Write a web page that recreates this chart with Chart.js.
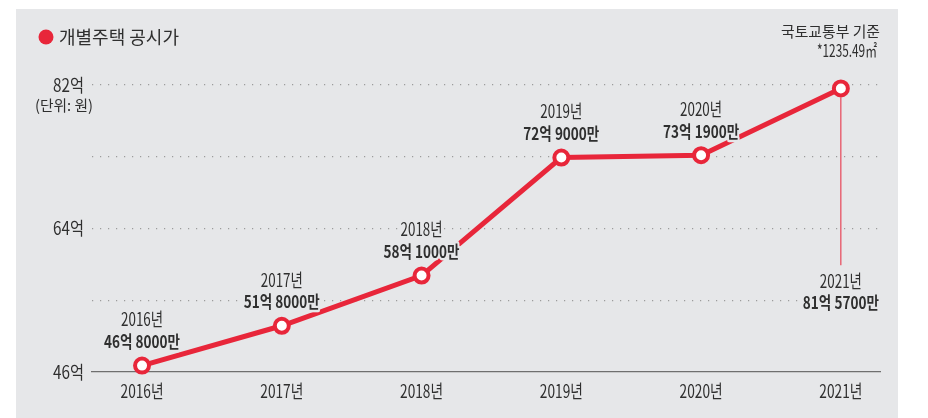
<!DOCTYPE html>
<html>
<head>
<meta charset="utf-8">
<script src="https://cdn.jsdelivr.net/npm/chart.js@4.4.1/dist/chart.umd.min.js"></script>
<style>
  html, body { margin: 0; padding: 0; background: #ffffff; }
  canvas { display: block; }
</style>
</head>
<body>
<canvas id="price-chart" width="928" height="418"></canvas>
<script>
// data (unit: 억 원)
var years = ['2016년', '2017년', '2018년', '2019년', '2020년', '2021년'];
var prices = [46.8, 51.8, 58.1, 72.9, 73.19, 81.57];
var priceLabels = ['46억 8000만', '51억 8000만', '58억 1000만', '72억 9000만', '73억 1900만', '81억 5700만'];
var yTicks = [46, 55, 64, 73, 82];
var yTickLabels = { 46: '46억', 64: '64억', 82: '82억' };

var RED = '#e8263a';
var PANEL = '#e6e7e9';
var TEXT = '#2f2f2f';
var FONT = '"Noto Sans CJK KR", "Noto Sans", sans-serif';

// the print version uses a condensed face, so squeeze text to a measured width
function squeeze(ctx, font, sample, targetWidth) {
    ctx.save();
    ctx.font = font;
    var w = ctx.measureText(sample).width;
    ctx.restore();
    return w > 0 ? targetWidth / w : 1;
}

function drawText(ctx, text, x, y, font, align, sx, halo) {
    ctx.save();
    ctx.font = font;
    ctx.textAlign = align;
    ctx.textBaseline = 'middle';
    ctx.translate(x, y);
    ctx.scale(sx, 1);
    if (halo) {
        ctx.lineJoin = 'round';
        ctx.lineWidth = 5;
        ctx.strokeStyle = PANEL;
        ctx.strokeText(text, 0, 0);
    }
    ctx.fillStyle = TEXT;
    ctx.fillText(text, 0, 0);
    ctx.restore();
}

var YEAR_FONT = '18px ' + FONT;
var VALUE_FONT = 'bold 17px ' + FONT;

var panelPlugin = {
    id: 'panel',
    beforeDraw: function (chart) {
        var ctx = chart.ctx;
        ctx.save();
        ctx.fillStyle = '#ffffff';
        ctx.fillRect(0, 0, chart.width, chart.height);
        ctx.fillStyle = PANEL;
        ctx.fillRect(16, 9, 882, 409);
        ctx.restore();
    },
    afterDraw: function (chart) {
        var ctx = chart.ctx;
        var xScale = chart.scales.x;
        var yScale = chart.scales.y;

        // legend
        ctx.save();
        ctx.fillStyle = RED;
        ctx.beginPath();
        ctx.arc(46, 37, 7.5, 0, Math.PI * 2);
        ctx.fill();
        ctx.restore();
        drawText(ctx, '개별주택 공시가', 59, 37, '18px ' + FONT, 'left', 1, false);

        var srcFont = '15px ' + FONT;
        drawText(ctx, '국토교통부 기준', 880, 31, srcFont, 'right', squeeze(ctx, srcFont, '국토교통부 기준', 99), false);
        var areaFont = '17px ' + FONT;
        drawText(ctx, '*1235.49㎡', 877, 51, areaFont, 'right', squeeze(ctx, areaFont, '*1235.49㎡', 60), false);
        var unitFont = '15px ' + FONT;
        drawText(ctx, '(단위: 원)', 93, 105, unitFont, 'right', squeeze(ctx, unitFont, '(단위: 원)', 58), false);

        // axis labels
        var sxYear = squeeze(ctx, YEAR_FONT, '2016년', 43);
        for (var i = 0; i < years.length; i++) {
            drawText(ctx, years[i], xScale.getPixelForValue(i), 391, YEAR_FONT, 'center', sxYear, false);
        }
        var sxTick = squeeze(ctx, YEAR_FONT, '82억', 31);
        yTicks.forEach(function (v) {
            if (yTickLabels[v]) {
                drawText(ctx, yTickLabels[v], 84, yScale.getPixelForValue(v), YEAR_FONT, 'right', sxTick, false);
            }
        });
    }
};

var labelPlugin = {
    id: 'pointLabels',
    afterDatasetsDraw: function (chart) {
        var ctx = chart.ctx;
        var meta = chart.getDatasetMeta(0);
        var yScale = chart.scales.y;
        var last = prices.length - 1;
        var sxYear = squeeze(ctx, YEAR_FONT, '2016년', 42);
        var sxValue = squeeze(ctx, VALUE_FONT, '46억 8000만', 76);

        for (var i = 0; i < prices.length; i++) {
            var pt = meta.data[i];
            var yearY, valY;
            if (i === last) {
                // last label sits below, joined by a thin red line
                valY = yScale.getPixelForValue(55) + 2;
                yearY = valY - 21;
                ctx.save();
                ctx.strokeStyle = RED;
                ctx.lineWidth = 1;
                ctx.beginPath();
                ctx.moveTo(pt.x, pt.y + 9);
                ctx.lineTo(pt.x, yearY - 16);
                ctx.stroke();
                ctx.restore();
            } else {
                yearY = pt.y - 46;
                valY = pt.y - 24;
            }
            drawText(ctx, years[i], pt.x, yearY, YEAR_FONT, 'center', sxYear, true);
            drawText(ctx, priceLabels[i], pt.x, valY, VALUE_FONT, 'center', sxValue, true);
        }
    }
};

var ctx = document.getElementById('price-chart').getContext('2d');

var chart = new Chart(ctx, {
    type: 'line',
    data: {
        datasets: [{
            data: prices.map(function (v, i) { return { x: i, y: v }; }),
            borderColor: RED,
            borderWidth: 5,
            pointRadius: 7,
            pointBorderWidth: 4,
            pointBackgroundColor: '#ffffff',
            pointBorderColor: RED,
            tension: 0,
            clip: false
        }]
    },
    options: {
        responsive: false,
        animation: false,
        layout: {
            padding: { left: 0, right: 48, top: 85, bottom: 0 }
        },
        plugins: {
            legend: { display: false },
            tooltip: { enabled: false }
        },
        scales: {
            x: {
                type: 'linear',
                min: -0.358,
                max: 5.28,
                afterBuildTicks: function (scale) {
                    scale.ticks = years.map(function (y, i) { return { value: i }; });
                },
                afterFit: function (scale) { scale.height = 46; },
                grid: { display: false, drawTicks: false },
                border: { display: true, color: '#6f6f6f', width: 1.3 },
                ticks: { display: false }
            },
            y: {
                type: 'linear',
                min: 46,
                max: 82,
                afterBuildTicks: function (scale) {
                    scale.ticks = yTicks.map(function (v) { return { value: v }; });
                },
                afterFit: function (scale) { scale.width = 92; },
                grid: {
                    drawTicks: false,
                    lineWidth: 1.2,
                    color: function (c) {
                        return c.tick && c.tick.value === 46 ? 'rgba(0,0,0,0)' : '#9c9c9c';
                    }
                },
                border: { display: false, dash: [1.2, 6.8] },
                ticks: { display: false }
            }
        }
    },
    plugins: [panelPlugin, labelPlugin]
});
</script>
</body>
</html>
